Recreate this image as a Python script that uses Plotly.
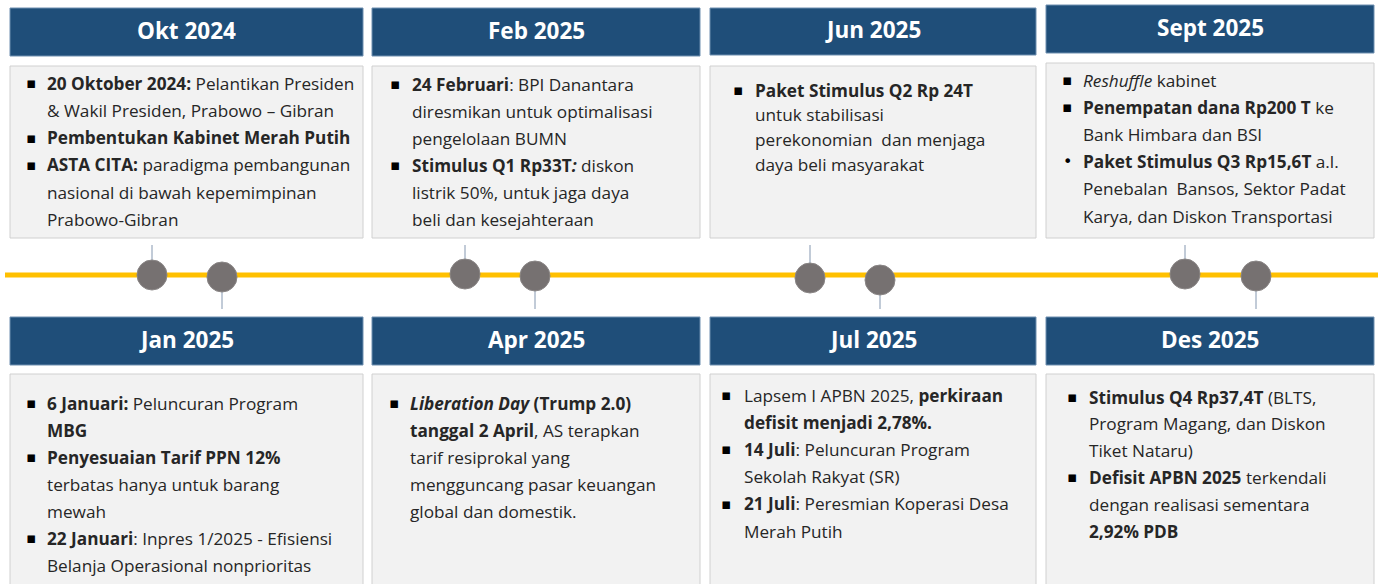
import plotly.graph_objects as go

# ---------------- data ----------------
top_months = ["Okt 2024", "Feb 2025", "Jun 2025", "Sept 2025"]
bottom_months = ["Jan 2025", "Apr 2025", "Jul 2025", "Des 2025"]

okt_lines = [
    ("▪", "<b>20 Oktober 2024:</b> Pelantikan Presiden"),
    ("", "& Wakil Presiden, Prabowo – Gibran"),
    ("▪", "<b>Pembentukan Kabinet Merah Putih</b>"),
    ("▪", "<b>ASTA CITA:</b> paradigma pembangunan"),
    ("", "nasional di bawah kepemimpinan"),
    ("", "Prabowo-Gibran"),
]
feb_lines = [
    ("▪", "<b>24 Februari</b>: BPI Danantara"),
    ("", "diresmikan untuk optimalisasi"),
    ("", "pengelolaan BUMN"),
    ("▪", "<b>Stimulus Q1 Rp33T<i>:</i></b> diskon"),
    ("", "listrik 50%, untuk jaga daya"),
    ("", "beli dan kesejahteraan"),
]
jun_lines = [
    ("▪", "<b>Paket Stimulus Q2 Rp 24T</b>"),
    ("", "untuk stabilisasi"),
    ("", "perekonomian  dan menjaga"),
    ("", "daya beli masyarakat"),
]
sept_lines = [
    ("▪", "<i>Reshuffle</i> kabinet"),
    ("▪", "<b>Penempatan dana Rp200 T</b> ke"),
    ("", "Bank Himbara dan BSI"),
    ("•", "<b>Paket Stimulus Q3 Rp15,6T</b> a.l."),
    ("", "Penebalan  Bansos, Sektor Padat"),
    ("", "Karya, dan Diskon Transportasi"),
]
jan_lines = [
    ("▪", "<b>6 Januari:</b> Peluncuran Program"),
    ("", "<b>MBG</b>"),
    ("▪", "<b>Penyesuaian Tarif PPN 12%</b>"),
    ("", "terbatas hanya untuk barang"),
    ("", "mewah"),
    ("▪", "<b>22 Januari</b>: Inpres 1/2025 - Efisiensi"),
    ("", "Belanja Operasional nonprioritas"),
]
apr_lines = [
    ("▪", "<b><i>Liberation Day</i> (Trump 2.0)</b>"),
    ("", "<b>tanggal 2 April</b>, AS terapkan"),
    ("", "tarif resiprokal yang"),
    ("", "mengguncang pasar keuangan"),
    ("", "global dan domestik."),
]
jul_lines = [
    ("▪", "Lapsem I APBN 2025, <b>perkiraan</b>"),
    ("", "<b>defisit menjadi 2,78%.</b>"),
    ("▪", "<b>14 Juli</b>: Peluncuran Program"),
    ("", "Sekolah Rakyat (SR)"),
    ("▪", "<b>21 Juli</b>: Peresmian Koperasi Desa"),
    ("", "Merah Putih"),
]
des_lines = [
    ("▪", "<b>Stimulus Q4 Rp37,4T</b> (BLTS,"),
    ("", "Program Magang, dan Diskon"),
    ("", "Tiket Nataru)"),
    ("▪", "<b>Defisit APBN 2025</b> terkendali"),
    ("", "dengan realisasi sementara"),
    ("", "<b>2,92% PDB</b>"),
]
top_contents = [okt_lines, feb_lines, jun_lines, sept_lines]
bottom_contents = [jan_lines, apr_lines, jul_lines, des_lines]

# ---------------- layout geometry ----------------
W, H = 1378, 584
FONT = "'Open Sans', sans-serif"
NAVY = "#1F4E79"
BOXFILL = "#F2F2F2"
TXT = "#262626"
TSIZE = 17.2

cols = [(10, 363), (372, 700), (710, 1036), (1046, 1374)]
top_hdr = [(8, 56), (8, 56), (8, 55), (5, 53)]
top_box = [(66, 238), (66, 238), (66, 238), (63, 238)]
bot_hdr = (317, 365)
bot_box = (374, 600)
# text placement: (bullet x, text x, first line y, line step)
top_txt = [(31, 45, 83, 27.3), (395, 410, 84, 27.0), (738, 753, 90, 24.8), (1067, 1081, 80, 27.2)]
bot_txt = [(31, 45, 403, 27.0), (394, 408, 403, 27.0), (726, 742, 395, 27.2), (1072, 1087, 397, 26.8)]
circles = [((152, 275), (222, 277)), ((465, 274), (535, 276)),
           ((810, 278), (880, 280)), ((1185, 274), (1256, 276))]
LINE_Y = 275

fig = go.Figure()
shapes = []
annotations = []

def add_panel(col, hdr, box, title, lines, txt):
    x0, x1 = col
    shapes.append(dict(type="rect", x0=x0, x1=x1, y0=hdr[0], y1=hdr[1],
                       fillcolor=NAVY, line=dict(color="#6F8FB0", width=1), layer="below"))
    annotations.append(dict(x=(x0 + x1) / 2, y=(hdr[0] + hdr[1]) / 2 - 2, text=f"<b>{title}</b>",
                            showarrow=False, xanchor="center", yanchor="middle",
                            font=dict(family=FONT, size=22.5, color="white")))
    shapes.append(dict(type="rect", x0=x0, x1=x1, y0=box[0], y1=box[1],
                       fillcolor=BOXFILL, line=dict(color="#D0D0D0", width=1), layer="below"))
    bx, tx, y0, step = txt
    for i, (bullet, text) in enumerate(lines):
        y = y0 + i * step
        if bullet:
            annotations.append(dict(x=bx, y=y, text=bullet, showarrow=False,
                                    xanchor="center", yanchor="middle",
                                    font=dict(family="DejaVu Sans, sans-serif",
                                              size=15 if bullet == "▪" else 16, color="#000000")))
        annotations.append(dict(x=tx, y=y, text=text, showarrow=False,
                                xanchor="left", yanchor="middle",
                                font=dict(family=FONT, size=TSIZE, color=TXT)))

for i in range(4):
    add_panel(cols[i], top_hdr[i], top_box[i], top_months[i], top_contents[i], top_txt[i])
    add_panel(cols[i], bot_hdr, bot_box, bottom_months[i], bottom_contents[i], bot_txt[i])

# timeline line
shapes.append(dict(type="line", x0=5, x1=W, y0=LINE_Y, y1=LINE_Y,
                   line=dict(color="#FFC000", width=5), layer="below"))
R = 15
for (c1, c2) in circles:
    shapes.append(dict(type="line", x0=c1[0], x1=c1[0], y0=245, y1=c1[1] - R,
                       line=dict(color="#8497B0", width=1), layer="below"))
    shapes.append(dict(type="line", x0=c2[0], x1=c2[0], y0=c2[1] + R, y1=309,
                       line=dict(color="#8497B0", width=1), layer="below"))

cx = [p[0] for pair in circles for p in pair]
cy = [p[1] for pair in circles for p in pair]
fig.add_trace(go.Scatter(x=cx, y=cy, mode="markers", hoverinfo="skip",
                         marker=dict(size=30, color="#767171",
                                     line=dict(color="#8A8686", width=1))))

fig.update_layout(
    width=W, height=H, margin=dict(l=0, r=0, t=0, b=0),
    paper_bgcolor="white", plot_bgcolor="white", showlegend=False,
    xaxis=dict(range=[0, W], visible=False, fixedrange=True),
    yaxis=dict(range=[H, 0], visible=False, fixedrange=True),
    shapes=shapes, annotations=annotations,
)
fig.write_html("out.html", config={"displayModeBar": False},
               post_script="document.body.style.margin='0';document.body.style.overflow='hidden';")
